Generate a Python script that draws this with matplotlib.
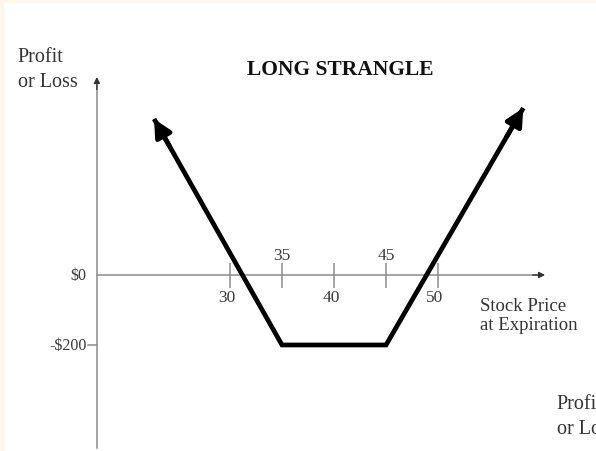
import matplotlib.pyplot as plt
from matplotlib.patches import Rectangle

# payoff polyline (stock price at expiration, profit/loss in $)
price = [22.7, 35, 45, 58.2]
pnl = [446, -200, -200, 477]

# price axis ticks
tick_prices = [30, 35, 40, 45, 50]
labels_above = [35, 45]
labels_below = [30, 40, 50]

# profit axis ticks
pnl_ticks = [0, -200]
pnl_labels = ["$0", "-$200"]

SERIF = ["Liberation Serif", "DejaVu Serif"]
AXIS_GRAY = "#8c8c8c"


def draw_chart():
    fig = plt.figure(figsize=(5.96, 4.51), dpi=100, facecolor="white")
    ax = fig.add_axes([0, 0, 1, 1])
    ax.set_xlim(7.885, 65.19)
    ax.set_ylim(-502.9, 785.7)
    ax.axis("off")

    # faint cream frame at the top/left edges
    fig.patches.append(Rectangle((0, 0), 3 / 596, 1, transform=fig.transFigure,
                                 color="#fff8ea", zorder=0))
    fig.patches.append(Rectangle((0, 1 - 2 / 451), 1, 2 / 451, transform=fig.transFigure,
                                 color="#fff8ea", zorder=0))

    y_axis_x = 17.2
    x_axis_end = 60.3

    # axes lines with arrow heads
    ax.plot([y_axis_x, x_axis_end - 0.8], [0, 0], color=AXIS_GRAY, lw=1.1, zorder=1)
    ax.annotate("", xy=(x_axis_end, 0), xytext=(x_axis_end - 1.2, 0),
                arrowprops=dict(arrowstyle="-|>", color="#333333", lw=1.0,
                                mutation_scale=9, shrinkA=0, shrinkB=0))
    ax.plot([y_axis_x, y_axis_x], [-495, 540], color=AXIS_GRAY, lw=1.1, zorder=1)
    ax.annotate("", xy=(y_axis_x, 566), xytext=(y_axis_x, 530),
                arrowprops=dict(arrowstyle="-|>", color="#333333", lw=1.0,
                                mutation_scale=9, shrinkA=0, shrinkB=0))

    # price ticks
    ax.vlines(tick_prices, -36, 34, color=AXIS_GRAY, lw=1.1, zorder=1)
    for p in labels_above:
        ax.text(p, 55, str(p), ha="center", va="center", fontsize=12.5,
                family=SERIF, color="#3a3a3a")
    for p in labels_below:
        ax.text(p - 0.3, -65, str(p), ha="center", va="center", fontsize=12.5,
                family=SERIF, color="#3a3a3a")

    # profit ticks
    for v, lab in zip(pnl_ticks, pnl_labels):
        if v != 0:
            ax.plot([y_axis_x - 0.85, y_axis_x], [v, v], color=AXIS_GRAY, lw=1.1)
        ax.text(y_axis_x - 1.0, v - 4, lab, ha="right", va="center", fontsize=11.5,
                family=SERIF, color="#3a3a3a")

    # payoff line
    ax.plot(price, pnl, color="black", lw=3.4, solid_joinstyle="miter",
            solid_capstyle="butt", zorder=3)
    for i0, i1 in [(1, 0), (2, 3)]:
        x0, y0 = price[i0], pnl[i0]
        x1, y1 = price[i1], pnl[i1]
        t = 0.12
        ax.annotate("", xy=(x1, y1), xytext=(x1 - (x1 - x0) * t, y1 - (y1 - y0) * t),
                    arrowprops=dict(arrowstyle="-|>", color="black", lw=3.4,
                                    mutation_scale=26, shrinkA=0, shrinkB=0),
                    zorder=4)

    # texts
    ax.text(9.6, 586, "Profit\nor Loss", ha="left", va="center", fontsize=14.5,
            family=SERIF, color="#333333", linespacing=1.45)
    ax.text(40.6, 586, "LONG STRANGLE", ha="center", va="center", fontsize=15.5,
            fontweight="bold", family=SERIF, color="#111111")
    ax.text(54.0, -117, "Stock Price\nat Expiration", ha="left", va="center",
            fontsize=13.5, family=SERIF, color="#333333", linespacing=1.15)
    ax.text(61.4, -405, "Profit\nor Loss", ha="left", va="center", fontsize=14.5,
            family=SERIF, color="#333333", linespacing=1.45)

    fig.savefig("out.png", dpi=100, facecolor=fig.get_facecolor())


def main():
    draw_chart()


if __name__ == "__main__":
    main()
